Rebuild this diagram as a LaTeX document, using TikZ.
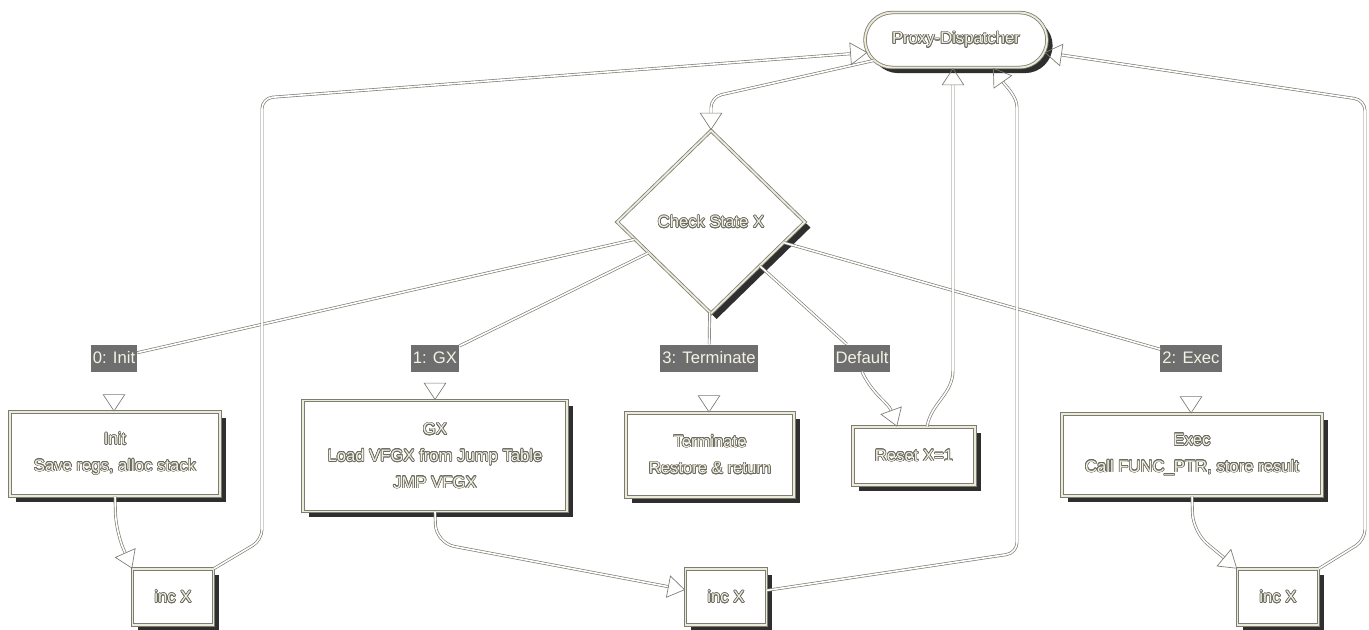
\documentclass[tikz,border=0pt]{standalone}
\usepackage{fontspec}
\setmainfont{Liberation Sans}
\usepackage{contour}
\contourlength{0.5pt}
\contournumber{16}
\usetikzlibrary{shapes.geometric,shapes.misc,shadows,arrows.meta}

\definecolor{lineg}{HTML}{7C7C72}
\definecolor{bandc}{HTML}{ECEBDA}
\definecolor{shadowc}{HTML}{2F2F2F}
\definecolor{tagfill}{HTML}{6E6E6E}
\definecolor{tagtext}{HTML}{F3F2E6}
\definecolor{glyphfill}{HTML}{F1F0E2}
\definecolor{glyphline}{HTML}{6A6A60}

% hollow lettering: light glyphs with a grey contour
\newcommand{\hl}[1]{\contour{glyphline}{#1}}

\tikzset{
  box/.style={rectangle, draw=lineg, double=bandc, double distance=1.4pt,
    line width=0.6pt, fill=white, inner sep=0pt, align=center,
    text=glyphfill, font=\fontsize{12.5}{20}\selectfont,
    drop shadow={shadow xshift=4.2pt, shadow yshift=-4.2pt, fill=shadowc, opacity=1}},
  tag/.style={rectangle, fill=tagfill, text=tagtext, inner sep=1.5pt,
    minimum height=20.25pt, font=\fontsize{12.5}{15}\selectfont},
  edge/.style={draw=lineg, double=white, double distance=1.2pt, line width=0.5pt},
  tip/.style={-{Triangle[open,length=13pt,width=17pt]}},
}

\begin{document}
\begin{tikzpicture}[x=0.75pt, y=-0.75pt]
\path[use as bounding box, fill=white] (0,0) rectangle (1369,629);

% dispatcher and state test
\node[box, rounded rectangle, minimum width=136.5pt, minimum height=41.25pt] (disp) at (956,40) {\hl{Proxy-Dispatcher}};
\node[box, diamond, minimum width=141pt, minimum height=137.25pt] (diam) at (711,222) {\hl{Check State X}};

% branch labels
\node[tag] (l0) at (114,358) {0: Init};
\node[tag] (l1) at (435,358) {1: GX};
\node[tag] (l3) at (709,358) {3: Terminate};
\node[tag] (ld) at (862,358) {Default};
\node[tag] (l2) at (1191,358) {2: Exec};

% handlers
\node[box, minimum width=157.5pt, minimum height=63pt] (init) at (115,454) {\hl{Init}\\\hl{Save regs, alloc stack}};
\node[box, minimum width=198pt, minimum height=83.25pt] (gx) at (435,456) {\hl{GX}\\\hl{Load VFGX from Jump Table}\\\hl{JMP VFGX}};
\node[box, minimum width=126pt, minimum height=63pt] (term) at (710,455) {\hl{Terminate}\\\hl{Restore \& return}};
\node[box, minimum width=91.5pt, minimum height=43.5pt] (reset) at (914,456) {\hl{Reset X=1}};
\node[box, minimum width=195pt, minimum height=61.5pt] (exec) at (1192,455) {\hl{Exec}\\\hl{Call FUNC\_PTR, store result}};

% counters
\node[box, minimum width=60.75pt, minimum height=42pt] (incl) at (173,597) {\hl{inc X}};
\node[box, minimum width=60.75pt, minimum height=42pt] (incm) at (726,597) {\hl{inc X}};
\node[box, minimum width=60.75pt, minimum height=42pt] (incr) at (1278,597) {\hl{inc X}};

% dispatcher to state test
\draw[edge, tip, rounded corners=8pt] (disp.194) -- (711,97) -- (diam.north);

% state test to branch labels
\draw[edge] (diam) -- (l0);
\draw[edge] (diam) -- (l1);
\draw[edge] (diam) -- (l3);
\draw[edge] (diam) -- (ld);
\draw[edge] (diam) -- (l2);

% branch labels to handlers
\draw[edge, tip] (l0.south) -- (l0.south |- init.north);
\draw[edge, tip] (l1.south) -- (l1.south |- gx.north);
\draw[edge, tip] (l3.south) -- (l3.south |- term.north);
\draw[edge, tip] (ld.south) to[out=-65, in=110] ([xshift=-12.75pt]reset.north);
\draw[edge, tip] (l2.south) -- (l2.south |- exec.north);

% handlers to counters
\draw[edge, tip, rounded corners=14pt] (init.south) -- (116,532) -- (incl.north west);
\draw[edge, tip, rounded corners=14pt] (gx.south) -- (436,543) -- (incm.170);
\draw[edge, tip, rounded corners=14pt] (exec.south) -- (1193,532) -- (incr.north west);

% back to the dispatcher
\draw[edge, tip, rounded corners=8pt] (incl.north east) -- (262,540) -- (262,98) -- (disp.188);
\draw[edge, tip, rounded corners=8pt] ([yshift=5pt]incm.east) -- (1017,553) -- (1017,118) to[out=90, in=-55] ([xshift=27.75pt]disp.south);
\draw[edge, tip] ([xshift=9.75pt]reset.north) to[out=80, in=-90] (953,370) -- ([xshift=-2.25pt]disp.south);
\draw[edge, tip, rounded corners=8pt] (incr.north east) -- (1365,540) -- (1365,100) -- (disp.-8);
\end{tikzpicture}
\end{document}
